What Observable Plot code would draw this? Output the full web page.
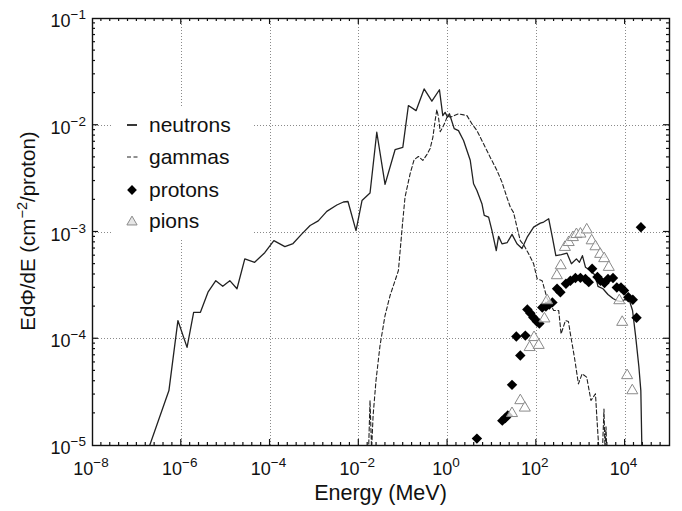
<!DOCTYPE html>
<html>
<head>
<meta charset="utf-8">
<script src="https://cdn.jsdelivr.net/npm/d3@7"></script>
<script src="https://cdn.jsdelivr.net/npm/@observablehq/plot@0.6"></script>
<style>
  html, body { margin: 0; padding: 0; background: #fff; }
  svg { display: block; }
</style>
</head>
<body>
<div id="chart"></div>
<script>
// ---------- data ----------
const neutronE = [1.94e-7, 5.27e-7, 8.4e-7, 1.35e-6, 1.9e-6, 2.7e-6, 4.0e-6, 6.0e-6, 8.6e-6, 1.24e-5,
  1.8e-5, 2.7e-5, 4.5e-5, 7.6e-5, 1.22e-4, 2.16e-4, 3.3e-4, 5.1e-4, 8.0e-4, 1.22e-3,
  1.9e-3, 3.2e-3, 4.5e-3, 5.7e-3, 8.65e-3, 1.18e-2, 1.79e-2, 2.54e-2, 3.9e-2, 6.56e-2,
  9.8e-2, 0.131, 0.195, 0.296, 0.443, 0.656, 0.78, 0.88, 1.0, 1.1,
  1.41, 1.76, 2.29, 2.73, 3.24, 3.85, 4.58, 5.94, 6.7, 8.4,
  10, 12.5, 14.1, 16.8, 22.1, 28.3, 36.6, 47.5, 61.7, 86.9,
  123, 146, 190, 230, 275, 367, 489, 617, 800, 935,
  1092, 1277, 1655, 2148, 2445, 3170, 4110, 5330, 6730, 8510,
  10200, 12600, 14700, 17200, 20400, 22600, 23800];
const neutronFlux = [1.0e-5, 3.27e-5, 1.48e-4, 8.3e-5, 1.77e-4, 1.77e-4, 2.73e-4, 3.5e-4, 3.1e-4, 3.5e-4,
  2.94e-4, 5.6e-4, 5.2e-4, 6.4e-4, 8.3e-4, 7.3e-4, 7.8e-4, 9.5e-4, 1.15e-3, 1.27e-3,
  1.56e-3, 1.79e-3, 1.91e-3, 1.93e-3, 1.03e-3, 1.97e-3, 2.32e-3, 8.6e-3, 2.79e-3, 5.9e-3,
  6.2e-3, 1.53e-2, 1.37e-2, 2.19e-2, 1.68e-2, 2.15e-2, 1.23e-2, 1.32e-2, 1.19e-2, 1.28e-2,
  9.3e-3, 8.9e-3, 7.2e-3, 5.8e-3, 4.7e-3, 2.83e-3, 2.45e-3, 1.84e-3, 1.43e-3, 1.38e-3,
  1.03e-3, 6.7e-4, 9.1e-4, 7.75e-4, 7.97e-4, 9.5e-4, 7.75e-4, 7.0e-4, 8.9e-4, 1.11e-3,
  1.21e-3, 1.24e-3, 1.33e-3, 8.9e-4, 6.0e-4, 6.15e-4, 6.35e-4, 5.04e-4, 5.6e-4, 5.2e-4,
  6.0e-4, 4.68e-4, 4.36e-4, 3.91e-4, 3.09e-4, 2.94e-4, 2.6e-4, 2.38e-4, 2.26e-4, 2.23e-4,
  2.36e-4, 2.26e-4, 1.84e-4, 1.07e-4, 5.5e-5, 3.27e-5, 1.0e-5];

const gammaE = [1.66e-2, 1.79e-2, 1.94e-2, 2.1e-2, 2.44e-2, 3.0e-2, 3.9e-2, 5.06e-2, 6.56e-2, 7.8e-2,
  9.8e-2, 0.110, 0.143, 0.176, 0.220, 0.277, 0.341, 0.405, 0.466, 0.525,
  0.573, 0.624, 0.681, 0.78, 0.88, 1.0, 1.15, 1.41, 1.76, 2.29,
  2.73, 3.54, 4.58, 6.46, 9.16, 13.0, 16.8, 21.8, 25.9, 30.7,
  36.6, 43.5, 51.7, 67, 86.9, 104, 135, 175, 246, 319,
  361, 452, 528, 585, 721, 887, 1076, 1365, 1700, 2148,
  2344, 2575, 3090, 3340, 3520, 3710, 3900];
const gammaFlux = [9e-6, 2.64e-5, 9e-6, 1.91e-5, 4.06e-5, 8.6e-5, 1.65e-4, 2.54e-4, 3.5e-4, 4.36e-4,
  1.28e-3, 2.12e-3, 3.5e-3, 4.75e-3, 5.1e-3, 4.68e-3, 5.3e-3, 6.05e-3, 7.7e-3, 1.11e-2,
  1.40e-2, 1.19e-2, 8.7e-3, 9.6e-3, 1.07e-2, 1.23e-2, 1.19e-2, 1.23e-2, 1.28e-2, 1.25e-2,
  1.23e-2, 1.03e-2, 8.9e-3, 6.7e-3, 5.0e-3, 3.77e-3, 2.93e-3, 2.1e-3, 1.71e-3, 1.52e-3,
  1.11e-3, 8.3e-4, 7.6e-4, 6.25e-4, 5.04e-4, 3.65e-4, 3.5e-4, 2.38e-4, 1.84e-4, 1.84e-4,
  1.11e-4, 1.48e-4, 1.45e-4, 1.11e-4, 6.7e-5, 3.78e-5, 4.7e-5, 4.36e-5, 2.64e-5, 3.05e-5,
  1.65e-5, 9e-6, 9e-6, 2.2e-5, 9e-6, 1.5e-5, 8e-6];

const protonE = [4.58, 17.1, 20.0, 22.7, 28.3, 35.4, 43.5, 56.5, 62.7, 73.3,
  85.5, 102.6, 117, 136, 164, 196, 230, 293, 348, 464,
  585, 759, 984, 1277, 1517, 1808, 2382, 2786, 3428, 4110,
  5330, 6500, 8070, 9440, 11800, 14900, 18100, 22700];
const protonFlux = [1.16e-5, 1.71e-5, 1.81e-5, 1.91e-5, 3.7e-5, 1.05e-4, 6.97e-5, 1.07e-4, 1.88e-4, 1.73e-4,
  1.58e-4, 1.45e-4, 1.39e-4, 1.96e-4, 2.0e-4, 2.09e-4, 2.19e-4, 2.94e-4, 2.73e-4, 3.27e-4,
  3.5e-4, 3.71e-4, 3.72e-4, 3.63e-4, 3.39e-4, 4.52e-4, 3.79e-4, 3.5e-4, 3.33e-4, 3.63e-4,
  3.71e-4, 3.02e-4, 3.02e-4, 2.83e-4, 2.45e-4, 2.32e-4, 1.57e-4, 1.11e-3];

const pionE = [28.3, 43.5, 55.0, 70.6, 88.8, 113, 152, 175, 290, 354,
  440, 536, 667, 800, 984, 1365, 1762, 2148, 2742, 3375,
  4290, 7400, 8600, 11100, 14500];
const pionFlux = [2.0e-5, 2.64e-5, 2.25e-5, 8.3e-5, 1.03e-4, 8.7e-5, 1.54e-4, 2.28e-4, 3.91e-4, 4.85e-4,
  7.2e-4, 8.0e-4, 8.9e-4, 9.5e-4, 9.6e-4, 1.05e-3, 8.3e-4, 7.3e-4, 6.2e-4, 5.65e-4,
  4.68e-4, 2.28e-4, 1.43e-4, 4.53e-5, 3.27e-5];

const seriesNames = ["neutrons", "gammas", "protons", "pions"];
const xLabelTicks = [1e-8, 1e-6, 1e-4, 1e-2, 1, 1e2, 1e4];
const xLabelExponents = ["-8", "-6", "-4", "-2", "0", "2", "4"];
const yLabelTicks = [1e-5, 1e-4, 1e-3, 1e-2, 1e-1];
const yLabelExponents = ["-5", "-4", "-3", "-2", "-1"];
const xGridTicks = [1e-6, 1e-4, 1e-2, 1, 1e2, 1e4];
const yGridTicks = [1e-4, 1e-3, 1e-2];
const xTitle = "Energy (MeV)";
const yTitleParts = ["EdΦ/dE (cm", "-2", "/proton)"];

// ---------- tables ----------
const zip = (xs, ys) => xs.map((e, i) => ({E: e, flux: ys[i]}));
const neutrons = zip(neutronE, neutronFlux);
const gammas = zip(gammaE, gammaFlux);
const protons = zip(protonE, protonFlux);
const pions = zip(pionE, pionFlux);

const FONT = "'Liberation Sans', Arial, Helvetica, sans-serif";
const minus = s => s.replace("-", "\u2212");

function pick(args) {
  const scales = args.find(a => a && typeof a.x === "function" && typeof a.y === "function");
  const dims = args.find(a => a && typeof a === "object" && "marginLeft" in a && "width" in a);
  return {scales, dims};
}
function box(dims) {
  return {L: dims.marginLeft, R: dims.width - dims.marginRight,
          T: dims.marginTop, B: dims.height - dims.marginBottom};
}

// dotted grid
function gridLayer(...args) {
  const {scales, dims} = pick(args);
  const {L, R, T, B} = box(dims);
  const g = d3.create("svg:g").attr("stroke", "#8a8a8a").attr("stroke-width", 1)
    .attr("stroke-dasharray", "1,2");
  for (const v of xGridTicks) {
    const px = Math.round(scales.x(v)) + 0.5;
    g.append("line").attr("x1", px).attr("x2", px).attr("y1", T).attr("y2", B);
  }
  for (const v of yGridTicks) {
    const py = Math.round(scales.y(v)) + 0.5;
    g.append("line").attr("x1", L).attr("x2", R).attr("y1", py).attr("y2", py);
  }
  return g.node();
}

// legend box (white background) placed near the top-left of the frame
function legendBackground(...args) {
  const {dims} = pick(args);
  const {L, T} = box(dims);
  return d3.create("svg:rect").attr("x", L + 21).attr("y", T + 90)
    .attr("width", 139).attr("height", 132).attr("fill", "white").node();
}

function legendItems(...args) {
  const {dims} = pick(args);
  const {L, T} = box(dims);
  const g = d3.create("svg:g");
  const sx = L + 40, tx = L + 57;
  const rows = [T + 107, T + 139, T + 172, T + 203];
  // neutrons solid
  g.append("line").attr("x1", sx - 5).attr("x2", sx + 5).attr("y1", rows[0]).attr("y2", rows[0])
    .attr("stroke", "#222").attr("stroke-width", 1.8);
  // gammas dashed
  g.append("line").attr("x1", sx - 5).attr("x2", sx + 6).attr("y1", rows[1]).attr("y2", rows[1])
    .attr("stroke", "#222").attr("stroke-width", 1).attr("stroke-dasharray", "4,2.5");
  // protons diamond
  g.append("path").attr("transform", `translate(${sx},${rows[2]})`)
    .attr("d", d3.symbol(d3.symbolDiamond2, Math.PI * 4.4 * 4.4)()).attr("fill", "black");
  // pions triangle
  g.append("path").attr("transform", `translate(${sx},${rows[3] + 1})`)
    .attr("d", d3.symbol(d3.symbolTriangle, Math.PI * 3.8 * 3.8)())
    .attr("fill", "#e6e6e6").attr("stroke", "#8a8a8a").attr("stroke-width", 1);
  seriesNames.forEach((name, i) => {
    g.append("text").attr("x", tx).attr("y", rows[i] + 7).attr("text-anchor", "start")
      .attr("font-family", FONT).attr("font-size", 21).attr("fill", "#111").text(name);
  });
  return g.node();
}

// inward ticks on all sides + labels with superscripts
function axesLayer(...args) {
  const {scales, dims} = pick(args);
  const {L, R, T, B} = box(dims);
  const x = scales.x, y = scales.y;
  const g = d3.create("svg:g");
  const t = g.append("g").attr("stroke", "#111").attr("stroke-width", 1.2);
  const [lo, hi] = [-8, 5];
  for (let k = 1; k < (hi - lo) * 5; k++) {
    const e = lo + k * 0.2;
    const px = x(Math.pow(10, e));
    const len = (k % 10 === 0) ? 6 : 3;
    t.append("line").attr("x1", px).attr("x2", px).attr("y1", B).attr("y2", B - len);
    t.append("line").attr("x1", px).attr("x2", px).attr("y1", T).attr("y2", T + len);
  }
  for (let d = -5; d <= -2; d++) {
    for (let m = 1; m <= 9; m++) {
      if (m === 1 && d === -5) continue;
      const py = y(m * Math.pow(10, d));
      const len = m === 1 ? 6 : 3;
      t.append("line").attr("x1", L).attr("x2", L + len).attr("y1", py).attr("y2", py);
      t.append("line").attr("x1", R).attr("x2", R - len).attr("y1", py).attr("y2", py);
    }
  }
  const lab = g.append("g").attr("font-family", FONT).attr("fill", "#111");
  xLabelTicks.forEach((v, i) => {
    const tx = lab.append("text").attr("x", x(v) - 1).attr("y", B + 30)
      .attr("text-anchor", "middle").attr("font-size", 18);
    tx.append("tspan").text("10");
    tx.append("tspan").attr("dy", -8).attr("font-size", 13.5).text(minus(xLabelExponents[i]));
  });
  yLabelTicks.forEach((v, i) => {
    const ty = lab.append("text").attr("x", L - 6).attr("y", y(v) + 9)
      .attr("text-anchor", "end").attr("font-size", 18);
    ty.append("tspan").text("10");
    ty.append("tspan").attr("dy", -8).attr("font-size", 13.5).text(minus(yLabelExponents[i]));
  });
  // axis titles
  lab.append("text").attr("x", (L + R) / 2).attr("y", B + 55).attr("text-anchor", "middle")
    .attr("font-size", 21.5).text(xTitle);
  const yt = lab.append("text").attr("transform", `translate(35,${(T + B) / 2 - 0.5}) rotate(-90)`)
    .attr("text-anchor", "middle").attr("font-size", 20.5);
  yt.append("tspan").text(yTitleParts[0]);
  yt.append("tspan").attr("dy", -8).attr("font-size", 14.5).text(minus(yTitleParts[1]));
  yt.append("tspan").attr("dy", 8).text(yTitleParts[2]);
  return g.node();
}

const chart = Plot.plot({
  width: 682,
  height: 511,
  marginLeft: 92,
  marginRight: 13,
  marginTop: 18,
  marginBottom: 66,
  x: {type: "log", domain: [1e-8, 1e5], axis: null},
  y: {type: "log", domain: [1e-5, 1e-1], axis: null},
  style: {fontFamily: FONT, background: "white"},
  marks: [
    gridLayer,
    legendBackground,
    Plot.line(gammas, {x: "E", y: "flux", stroke: "#222", strokeWidth: 1.1,
      strokeDasharray: "4,2.5", clip: true}),
    Plot.line(neutrons, {x: "E", y: "flux", stroke: "#222", strokeWidth: 1.3, clip: true}),
    Plot.dot(protons, {x: "E", y: "flux", symbol: "diamond2", r: 4.7, fill: "black", stroke: "none"}),
    Plot.dot(pions, {x: "E", y: "flux", symbol: "triangle", r: 4.1, fill: "white", fillOpacity: 0.75,
      stroke: "#8a8a8a", strokeWidth: 1}),
    legendItems,
    Plot.frame({stroke: "#111", strokeWidth: 1.4}),
    axesLayer
  ]
});
document.getElementById("chart").appendChild(chart);
</script>
</body>
</html>
